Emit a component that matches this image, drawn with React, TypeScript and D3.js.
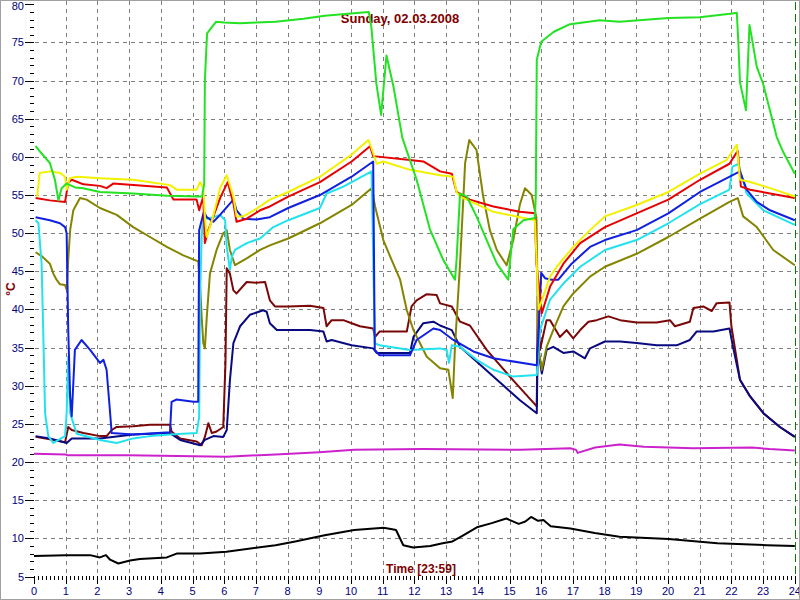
import React, { useEffect } from "react";
import * as d3 from "d3";

type P = [number, number];

const titleText = "Sunday, 02.03.2008";
const xLabelText = "Time [23:59]";
const yLabelText = "°C";
const xTickValues = d3.range(0, 25);
const yTickValues = d3.range(5, 81, 5);

const greenSeries: P[] = [[0.05,61.4],[0.19,60.7],[0.5,59.2],[0.66,57.0],[0.77,54.3],[0.87,55.9],[1.03,56.5],[1.3,56.0],[1.55,55.9],[2.08,55.4],[3.13,55.2],[4.2,54.9],[5.15,54.8],[5.3,54.8],[5.37,56.5],[5.39,70],[5.46,76.2],[5.74,77.7],[6.0,77.6],[6.5,77.5],[7.0,77.6],[7.62,77.7],[8.5,78.1],[9.17,78.5],[10.0,78.8],[10.56,79.0],[10.64,77.1],[10.8,69.6],[10.95,65.5],[11.12,73.3],[11.34,69.2],[11.62,62.5],[12.07,57.0],[12.49,50.5],[12.91,46.5],[13.28,43.9],[13.33,46.5],[13.44,55.2],[13.65,54.8],[13.96,52.2],[14.28,49.1],[14.6,46.0],[14.96,43.9],[15.12,50.5],[15.44,51.7],[15.8,52.0],[15.83,55],[15.86,72.7],[16.0,75.1],[16.4,76.4],[16.91,77.4],[17.85,77.9],[18.47,77.7],[20.02,78.2],[21.0,78.3],[22.03,78.8],[22.17,78.9],[22.22,75.0],[22.27,69.8],[22.46,66.1],[22.57,77.3],[22.64,75.7],[22.8,71.8],[23.0,69.6],[23.43,62.6],[23.65,60.5],[24,57.8]];

const yellowSeries: P[] = [[0.1,54.8],[0.18,57.9],[0.5,58.1],[0.82,57.9],[0.98,57.4],[1.03,55.7],[1.13,57.2],[1.35,57.4],[2.08,57.2],[3.13,57.0],[4.29,56.3],[4.5,55.7],[5.13,55.7],[5.24,56.7],[5.34,55.9],[5.4,51.7],[5.45,49.5],[5.65,52.2],[5.87,55.9],[6.08,57.6],[6.29,54.8],[6.39,52.2],[6.6,52.2],[7.02,53.2],[7.44,54.4],[8.02,55.4],[9.02,57.4],[10.02,60.3],[10.55,62.2],[10.65,61.1],[10.81,59.1],[11.02,59.4],[11.86,58.3],[12.81,57.6],[13.23,57.4],[13.33,55.4],[13.44,54.8],[14.49,52.8],[15.33,52.1],[15.8,51.7],[15.85,47],[15.92,40],[16.28,44.3],[16.49,45.6],[17.01,48.2],[17.54,50.4],[18.01,52.2],[19.01,53.7],[20.01,55.4],[21.01,57.8],[21.85,59.6],[22.17,61.6],[22.27,57.0],[22.59,56.7],[23.22,55.9],[24,54.8]];

const redSeries: P[] = [[0.05,54.6],[0.5,54.3],[0.98,54.1],[1.08,56.6],[1.19,57.0],[1.56,56.4],[2.08,56.2],[2.29,55.9],[2.5,56.5],[3.13,56.3],[4.19,56.0],[4.4,54.4],[5.13,54.4],[5.21,53.0],[5.34,54.8],[5.39,48.7],[5.5,50.4],[5.66,52.2],[5.87,54.6],[6.11,56.7],[6.29,53.9],[6.39,51.5],[6.71,51.9],[7.13,53.0],[7.44,53.5],[8.02,54.8],[9.02,56.7],[10.02,59.4],[10.6,61.4],[10.7,60.1],[11.86,59.6],[12.28,59.4],[12.81,58.1],[13.18,57.8],[13.33,55.4],[13.75,54.4],[14.49,53.5],[15.33,52.8],[15.8,52.6],[15.85,46],[16.02,39.5],[16.28,43.0],[16.7,46.0],[17.23,48.7],[18.01,50.8],[19.01,52.6],[20.01,54.4],[21.01,57.0],[21.94,59.1],[22.2,60.8],[22.3,56.1],[22.59,55.7],[23.22,55.2],[24,54.6]];

const blueSeries: P[] = [[0.05,52.1],[0.5,51.7],[0.82,51.3],[0.98,50.8],[1.03,50.0],[1.08,37.3],[1.14,28.6],[1.19,26.0],[1.24,30.3],[1.29,34.7],[1.5,36.0],[1.77,34.7],[2.08,33.0],[2.19,33.4],[2.29,32.1],[2.4,26.5],[2.45,23.8],[3.13,23.6],[4.29,23.9],[4.34,27.9],[4.5,28.2],[5.03,27.9],[5.18,27.9],[5.21,50.4],[5.29,51.7],[5.36,52.8],[5.45,52.1],[5.66,51.5],[5.87,52.4],[6.29,54.4],[6.39,53.0],[6.6,51.9],[7.02,51.8],[7.44,52.1],[8.02,53.3],[9.02,55.0],[10.02,57.4],[10.7,59.4],[10.75,34.7],[10.9,34.0],[11.86,34.0],[12.07,36.0],[12.6,37.5],[12.81,37.3],[13.23,36.0],[13.86,34.5],[14.49,33.6],[15.86,32.7],[15.92,37.3],[16.0,44.8],[16.12,44.1],[16.33,43.9],[16.54,43.9],[16.96,46.0],[17.54,48.2],[18.01,49.1],[19.01,50.4],[20.01,52.6],[21.01,55.4],[22.27,58.1],[22.48,55.7],[22.8,54.1],[23.22,53.0],[24,51.7]];

const cyanSeries: P[] = [[0.05,51.7],[0.14,51.3],[0.24,46.0],[0.29,37.3],[0.35,26.4],[0.45,23.4],[0.61,22.5],[0.98,23.4],[1.03,26.4],[1.08,33.8],[1.14,26.4],[1.35,23.7],[2.08,22.9],[2.61,22.5],[3.13,23.1],[3.66,23.4],[4.29,23.6],[5.13,23.8],[5.21,25.9],[5.24,41.7],[5.29,49.6],[5.34,52.2],[5.45,51.9],[5.66,52.1],[5.87,52.4],[6.03,51.7],[6.08,48.2],[6.18,45.2],[6.24,46.9],[6.34,47.8],[6.71,48.7],[7.13,49.3],[7.55,50.8],[8.02,51.7],[9.02,53.3],[9.23,55.2],[9.76,56.1],[10.02,56.7],[10.65,58.1],[10.75,35.6],[10.9,35.3],[11.86,34.7],[12.81,34.9],[13.02,34.7],[13.09,33.0],[13.18,35.3],[13.44,35.1],[13.96,33.4],[14.49,32.1],[15.12,31.2],[15.86,31.4],[15.96,37.3],[16.28,41.3],[16.7,43.4],[17.23,45.6],[18.01,47.8],[19.01,49.1],[20.01,51.3],[21.01,53.8],[21.94,55.7],[22.03,58.7],[22.22,59.1],[22.48,55.2],[23.01,53.0],[24,51.1]];

const oliveSeries: P[] = [[0.05,47.5],[0.24,47.0],[0.5,46.0],[0.61,44.7],[0.71,43.9],[0.82,43.3],[0.98,43.2],[1.03,42.6],[1.08,46.5],[1.14,50.4],[1.24,53.0],[1.45,54.6],[1.66,54.4],[2.08,53.3],[2.61,52.4],[3.13,50.8],[3.66,49.5],[4.19,48.2],[4.71,47.1],[5.18,46.3],[5.24,43.0],[5.29,39.0],[5.34,35.6],[5.39,34.9],[5.45,39.0],[5.55,44.7],[5.76,47.8],[5.97,50.0],[6.08,50.4],[6.18,47.8],[6.34,45.8],[6.71,46.7],[7.13,47.8],[7.44,48.4],[8.02,49.3],[9.02,51.3],[10.02,53.7],[10.65,55.9],[10.76,53.5],[11.02,49.1],[11.28,46.5],[11.55,43.9],[11.76,39.9],[11.97,37.3],[12.39,33.8],[12.81,32.3],[13.07,32.1],[13.21,28.4],[13.28,35.1],[13.44,46.0],[13.6,59.2],[13.73,62.2],[13.96,60.9],[14.17,54.8],[14.38,50.4],[14.6,47.8],[14.91,45.8],[15.12,49.1],[15.33,53.8],[15.49,55.9],[15.7,55.0],[15.85,52],[15.91,35.1],[16.02,32.1],[16.17,35.1],[16.38,37.3],[16.7,40.4],[17.01,42.1],[17.54,44.3],[18.01,45.6],[19.01,47.3],[20.01,49.5],[21.01,51.9],[21.94,54.1],[22.2,54.6],[22.37,52.2],[22.8,50.8],[23.32,47.8],[24,45.8]];

const maroonSeries: P[] = [[0.05,23.3],[0.5,23.0],[0.98,22.6],[1.08,24.6],[1.19,24.2],[1.56,23.8],[2.08,23.4],[2.29,23.4],[2.45,24.2],[2.61,24.6],[3.13,24.7],[3.66,24.9],[4.29,24.9],[4.34,24.0],[4.61,23.1],[5.13,22.7],[5.29,22.2],[5.39,23.3],[5.5,25.1],[5.61,23.8],[5.76,24.0],[5.97,24.6],[6.04,33.0],[6.08,45.4],[6.18,44.7],[6.29,42.5],[6.39,42.1],[6.71,43.6],[7.0,43.5],[7.29,43.6],[7.44,41.2],[7.6,40.4],[8.02,40.4],[8.71,40.5],[9.13,40.2],[9.23,37.8],[9.39,38.6],[9.76,38.6],[10.02,38.2],[10.28,37.8],[10.7,37.5],[10.76,36.4],[10.9,37.1],[11.76,37.1],[11.91,40.4],[12.07,41.2],[12.39,42.0],[12.7,41.9],[12.81,40.8],[13.18,40.4],[13.44,38.4],[13.75,37.9],[14.28,34.7],[15.01,31.2],[15.86,27.3],[15.89,41.7],[15.96,34.7],[16.17,38.6],[16.28,38.6],[16.59,36.4],[16.8,37.3],[17.01,36.2],[17.23,37.3],[17.49,38.4],[17.75,38.6],[18.12,39.1],[18.49,38.6],[19.01,38.3],[19.64,38.3],[20.06,38.6],[20.22,37.8],[20.69,38.4],[20.8,40.2],[21.11,40.4],[21.38,39.8],[21.53,40.8],[21.94,40.9],[22.0,37.8],[22.27,30.8],[22.59,28.6],[23.01,26.4],[23.53,24.6],[24,23.3]];

const navySeries: P[] = [[0.05,23.4],[0.5,23.1],[1.03,22.5],[1.19,23.1],[2.08,23.1],[3.13,23.6],[4.29,23.8],[4.61,22.9],[5.24,22.2],[5.39,22.9],[5.66,23.4],[5.97,23.3],[6.08,24.2],[6.18,30.7],[6.29,35.6],[6.5,37.8],[6.81,39.3],[7.23,39.9],[7.34,39.7],[7.44,38.2],[7.66,37.3],[8.18,37.3],[8.71,37.3],[9.13,37.1],[9.23,35.8],[9.39,36.0],[10.02,35.3],[10.7,34.9],[10.81,34.3],[11.86,34.3],[11.97,36.4],[12.28,38.2],[12.6,38.4],[12.81,37.9],[13.18,37.3],[13.44,35.1],[14.49,31.2],[15.33,28.1],[15.86,26.4],[15.89,35.1],[16.02,31.6],[16.17,34.7],[16.38,35.1],[16.7,34.3],[17.01,34.5],[17.38,33.6],[17.54,34.9],[18.01,35.8],[18.49,35.8],[19.01,35.6],[19.64,35.3],[20.27,35.3],[20.69,36.0],[20.9,37.1],[21.43,37.1],[21.94,37.5],[22.05,35.1],[22.27,30.8],[22.59,28.6],[23.01,26.4],[23.53,24.6],[24,23.3]];

const magentaSeries: P[] = [[0,21.1],[1.0,21.0],[1.04,20.9],[2.97,20.9],[4.52,20.8],[6.07,20.7],[7.62,21.0],[9.0,21.3],[10.1,21.6],[12.27,21.7],[15.37,21.6],[16.92,21.8],[17.1,21.6],[17.15,21.2],[17.7,21.9],[18.47,22.3],[19.24,22.0],[20.79,21.8],[22.65,21.9],[23.2,21.7],[24,21.5]];

const blackSeries: P[] = [[0,7.7],[1.0,7.8],[1.77,7.8],[2.08,7.5],[2.27,7.8],[2.4,7.2],[2.66,6.7],[3.03,7.1],[3.34,7.3],[4.19,7.5],[4.5,8.0],[5.24,8.0],[6.07,8.25],[7.62,9.1],[8.24,9.6],[9.17,10.4],[10.1,11.1],[11.03,11.4],[11.3,11.2],[11.42,11.1],[11.65,9.1],[11.96,8.8],[12.5,9.0],[12.89,9.35],[13.2,9.6],[13.5,10.3],[13.97,11.45],[14.44,12.0],[14.9,12.6],[15.29,11.9],[15.5,12.2],[15.68,12.8],[15.9,12.3],[16.07,12.4],[16.3,11.6],[16.92,11.3],[17.69,10.7],[18.47,10.2],[20.02,9.9],[21.56,9.35],[23.11,9.1],[24,9.0]];

const seriesList: { data: P[]; color: string }[] = [
  { data: blackSeries, color: "#000000" },
  { data: magentaSeries, color: "#cc22cc" },
  { data: maroonSeries, color: "#7a0808" },
  { data: navySeries, color: "#0a0a80" },
  { data: oliveSeries, color: "#858400" },
  { data: cyanSeries, color: "#22e2ee" },
  { data: blueSeries, color: "#1020e0" },
  { data: redSeries, color: "#e80000" },
  { data: yellowSeries, color: "#f2f200" },
  { data: greenSeries, color: "#22e222" },
];

const W = 800;
const H = 600;
const x = d3.scaleLinear().domain([0, 24]).range([34, 794.8]);
const y = d3.scaleLinear().domain([5, 80]).range([576.5, 4.3]);
const line = d3.line<P>().x((d) => x(d[0])).y((d) => y(d[1]));

const font = "'Liberation Sans', Arial, sans-serif";

export default function App() {
  useEffect(() => {
    document.body.style.margin = "0";
  }, []);
  const minorX = d3.range(0, 24 * 8 + 1).map((i) => i / 8).filter((v) => Math.abs(v - Math.round(v)) > 1e-6);
  const minorY = d3.range(5, 81).filter((v) => v % 5 !== 0);
  return (
    <svg width={W} height={H} style={{ position: "absolute", left: 0, top: 0, background: "#fff" }}>
      <rect x={0} y={0} width={W} height={H} fill="#fff" />
      <g stroke="#808080" strokeWidth={1} strokeDasharray="4,4" shapeRendering="crispEdges">
        {xTickValues.filter((v) => v > 0 && v < 24).map((v) => (
          <line key={"gx" + v} x1={Math.round(x(v)) + 0.5} x2={Math.round(x(v)) + 0.5} y1={1} y2={576} />
        ))}
        {yTickValues.filter((v) => v > 5 && v < 80).map((v) => (
          <line key={"gy" + v} x1={35} x2={798} y1={Math.round(y(v)) + 0.5} y2={Math.round(y(v)) + 0.5} />
        ))}
      </g>
      <line x1={Math.round(x(24)) + 0.5} x2={Math.round(x(24)) + 0.5} y1={2} y2={583} stroke="#008000" strokeWidth={1} strokeDasharray="8,4" />
      <g stroke="#000" strokeWidth={1} shapeRendering="crispEdges">
        {yTickValues.map((v) => (
          <line key={"ty" + v} x1={25} x2={34} y1={Math.round(y(v)) + 0.5} y2={Math.round(y(v)) + 0.5} />
        ))}
        {minorY.map((v) => (
          <line key={"my" + v} x1={30} x2={34} y1={Math.round(y(v)) + 0.5} y2={Math.round(y(v)) + 0.5} />
        ))}
        {xTickValues.map((v) => (
          <line key={"tx" + v} x1={Math.round(x(v)) + 0.5} x2={Math.round(x(v)) + 0.5} y1={576} y2={584} />
        ))}
        {minorX.map((v) => (
          <line key={"mx" + v} x1={Math.round(x(v)) + 0.5} x2={Math.round(x(v)) + 0.5} y1={576} y2={580} />
        ))}
      </g>
      <g fill="#000080" fontFamily={font} fontSize={11}>
        {yTickValues.map((v) => (
          <text key={"ly" + v} x={24} y={Math.max(y(v) + 4, 10)} textAnchor="end">{v}</text>
        ))}
        {xTickValues.map((v) => (
          <text key={"lx" + v} x={x(v)} y={595} textAnchor="middle">{v}</text>
        ))}
      </g>
      <text x={400} y={23} textAnchor="middle" fill="#800000" fontFamily={font} fontWeight="bold" fontSize={13}>{titleText}</text>
      <text x={421} y={573} textAnchor="middle" fill="#800000" fontFamily={font} fontWeight="bold" fontSize={12}>{xLabelText}</text>
      <text transform="translate(15,289) rotate(-90)" textAnchor="middle" fill="#800000" fontFamily={font} fontWeight="bold" fontSize={12}>{yLabelText}</text>
      <g fill="none" strokeWidth={2} strokeLinejoin="round">
        {seriesList.map((s, i) => (
          <path key={"s" + i} d={line(s.data) || ""} stroke={s.color} />
        ))}
      </g>
      <rect x={0.5} y={0.5} width={W - 1} height={H - 1} fill="none" stroke="#a0a0a0" strokeWidth={1} />
    </svg>
  );
}
